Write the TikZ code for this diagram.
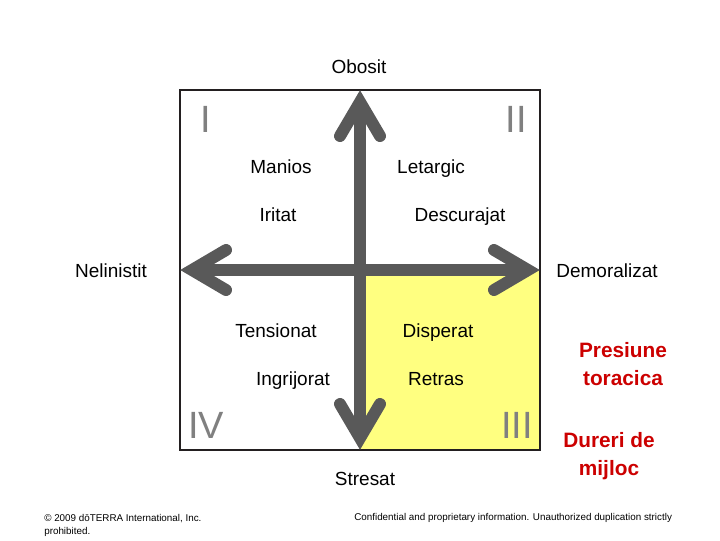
\documentclass[tikz,border=0pt]{standalone}
\usepackage{fontspec}
\setmainfont{Liberation Sans}
\usetikzlibrary{calc}
\definecolor{moodGray}{HTML}{595959}
\definecolor{moodNum}{HTML}{808080}
\definecolor{moodYellow}{HTML}{FFFF80}
\definecolor{moodRed}{HTML}{CC0000}
\definecolor{moodFrame}{HTML}{231F20}
\tikzset{
  mood frame/.style={draw=moodFrame, line width=1.5pt},
  mood axis/.style={draw=moodGray, line width=8.5pt},
  mood head/.style={draw=moodGray, line width=8.5pt, line cap=round, line join=miter},
  mood word/.style={font=\fontsize{13.5}{16}\selectfont, text=black, inner sep=0pt, anchor=base},
  mood num/.style={font=\fontsize{27}{30}\selectfont, text=moodNum, inner sep=0pt, anchor=base},
  mood symptom/.style={font=\fontsize{14.8}{19.8}\selectfont\bfseries, text=moodRed, align=center, inner sep=0pt},
  mood footer/.style={font=\fontsize{7}{9.2}\selectfont, text=black, inner sep=0pt, anchor=west, align=left},
}
\begin{document}
\begin{tikzpicture}[x=0.025cm,y=-0.025cm]
  \useasboundingbox (0,0) rectangle (720,540);
  \coordinate (top) at (360,90);
  \coordinate (bottom) at (360,450);
  \coordinate (left) at (180,270);
  \coordinate (right) at (540,270);
  \coordinate (centre) at (360,270);
  % quadrant III and frame
  \fill[moodYellow] (centre) rectangle (540,450);
  \draw[mood frame] (180,90) rectangle (540,450);
  % axes
  \draw[mood axis] ($(top)+(0,12)$) -- ($(bottom)+(0,-12)$);
  \draw[mood axis] ($(left)+(12,0)$) -- ($(right)+(-12,0)$);
  \draw[mood head] ($(top)+(-20,46)$) -- ($(top)+(0,12)$) -- ($(top)+(20,46)$);
  \draw[mood head] ($(bottom)+(-20,-46)$) -- ($(bottom)+(0,-12)$) -- ($(bottom)+(20,-46)$);
  \draw[mood head] ($(left)+(46,-20)$) -- ($(left)+(12,0)$) -- ($(left)+(46,20)$);
  \draw[mood head] ($(right)+(-46,-20)$) -- ($(right)+(-12,0)$) -- ($(right)+(-46,20)$);
  % axis ends
  \node[mood word] (obosit) at (359,73) {Obosit};
  \node[mood word] (stresat) at (365,485) {Stresat};
  \node[mood word] (nelinistit) at (111,277) {Nelinistit};
  \node[mood word] (demoralizat) at (607,277) {Demoralizat};
  % quadrant numbers
  \node[mood num] (q1) at (206,132) {I};
  \node[mood num] (q2) at (516,132) {II};
  \node[mood num] (q3) at (517,438) {III};
  \node[mood num] (q4) at (206,438) {IV};
  % states
  \node[mood word] (manios) at (281,173) {Manios};
  \node[mood word] (letargic) at (431,173) {Letargic};
  \node[mood word] (iritat) at (278,221) {Iritat};
  \node[mood word] (descurajat) at (460,221) {Descurajat};
  \node[mood word] (tensionat) at (276,337) {Tensionat};
  \node[mood word] (disperat) at (438,337) {Disperat};
  \node[mood word] (ingrijorat) at (293,385) {Ingrijorat};
  \node[mood word] (retras) at (436,385) {Retras};
  % symptoms
  \node[mood symptom] (presiune) at (623,364) {Presiune\\toracica};
  \node[mood symptom] (dureri) at (609,456) {Dureri de\\mijloc};
  % footer
  \node[mood footer] (copy) at (44,525) {© 2009 dōTERRA International, Inc.\\prohibited.};
  \node[mood footer] (confid) at (354,518) {Confidential and proprietary information. Unauthorized duplication strictly};
\end{tikzpicture}
\end{document}
